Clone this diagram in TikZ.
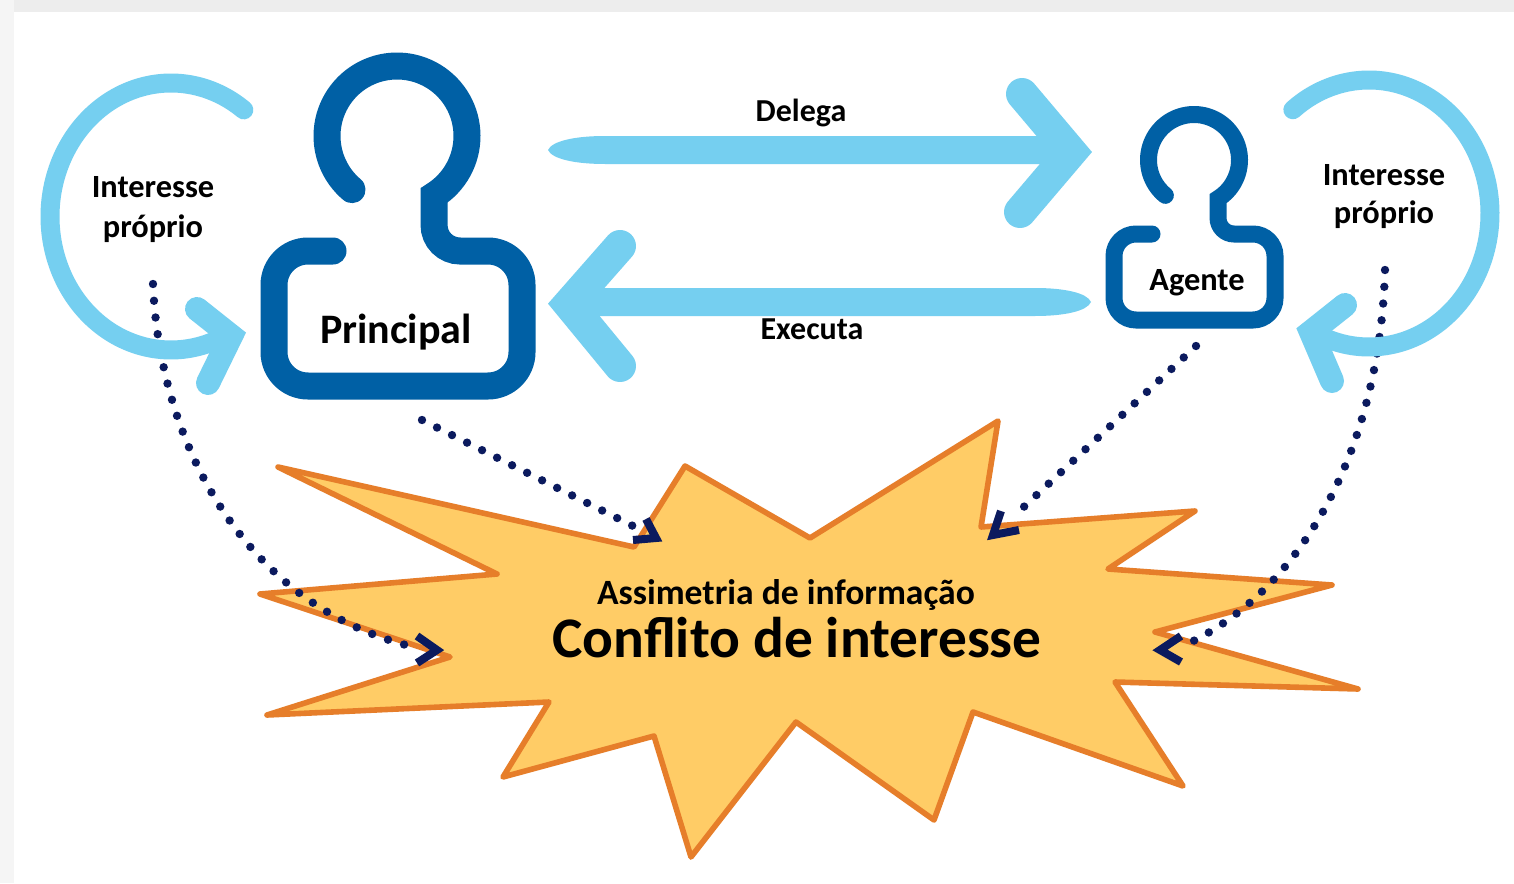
\documentclass[tikz,border=0pt]{standalone}
\usepackage{fontspec}
\setmainfont{Carlito}
\definecolor{lightblue}{HTML}{75CFF0}
\definecolor{darkblue}{HTML}{0060A5}
\definecolor{burstfill}{HTML}{FFCC66}
\definecolor{burstline}{HTML}{E67E2A}
\definecolor{navy}{HTML}{0B1A5E}
\tikzset{
  person/.style={draw=darkblue,line cap=round,line join=miter},
  loopline/.style={draw=lightblue,line width=9.5pt,line cap=round},
  chevron/.style={draw=lightblue,line cap=round,line join=miter,miter limit=10},
  shaft/.style={fill=lightblue,draw=none},
  dots/.style={draw=navy,line width=4.2pt,line cap=round,dash pattern=on 0pt off 8.4pt},
  barb/.style={draw=navy,line width=4pt,line cap=butt,line join=miter,miter limit=10},
  burst/.style={fill=burstfill,draw=burstline,line width=2.8pt,line join=round},
  lbl/.style={inner sep=0pt,text=black,align=center}
}
\begin{document}
\begin{tikzpicture}[x=0.5pt,y=-0.5pt]
\useasboundingbox (0,0) rectangle (1514,883);
% page frame
\fill[white] (0,0) rectangle (1514,883);
\fill[black!7] (0,0) rectangle (1514,12);
\fill[black!4] (0,0) rectangle (14,883);

% burst
\draw[burst] (278,467) -- (634,547) -- (685,466) -- (810,538) -- (998,421) -- (981,527)
  -- (1195,511) -- (1108,569) -- (1332,585) -- (1155,632) -- (1358,689) -- (1115,682)
  -- (1183,786) -- (973,712) -- (934,820) -- (796,722) -- (691,857) -- (654,736)
  -- (503,777) -- (549,702) -- (267,715) -- (450,657) -- (260,594) -- (497,574) -- cycle;

% named connector ends
\coordinate (ownL) at (153,284);
\coordinate (ownLend) at (418,648);
\coordinate (prinOut) at (422,420);
\coordinate (prinEnd) at (633,526);
\coordinate (agOut) at (1196,346);
\coordinate (agEnd) at (1013,517);
\coordinate (ownR) at (1385,270);
\coordinate (ownRend) at (1183,646);

% dotted connectors
\draw[dots] (ownL) .. controls (160,450) and (250,610) .. (ownLend);
\draw[dots] (prinOut) -- (prinEnd);
\draw[dots] (agOut) -- (agEnd);
\draw[dots] (ownR) .. controls (1380,445) and (1305,590) .. (ownRend);

% open arrowheads of the dotted connectors
\draw[barb] (417,636) -- (437,650) -- (417,663);
\draw[barb] (646,519) -- (656,538) -- (633,540);
\draw[barb] (1001,511) -- (993,535) -- (1019,530);
\draw[barb] (1181,636) -- (1160,650) -- (1181,662);

% self loops
\draw[loopline] plot[smooth,domain=-53:-297,samples=70] ({171+121*cos(\x)},{216.5+133.5*sin(\x)});
\draw[chevron,line width=12pt] (197,309) -- (231,336) -- (208,383);
\draw[loopline] plot[smooth,domain=-129:114,samples=70] ({1369+121*cos(\x)},{213.5+133.5*sin(\x)});
\draw[chevron,line width=12pt] (1345,305) -- (1311,332) -- (1332,381);

% Delega arrow
\fill[shaft] (548,150) .. controls (552,141) and (575,136) .. (605,136) -- (1060,136)
   -- (1060,164) -- (605,164) .. controls (575,164) and (552,159) .. (548,150) -- cycle;
\draw[chevron,line width=16pt] (1022,94) -- (1071,152) -- (1020,212);
% Executa arrow
\fill[shaft] (1091,302) .. controls (1087,293) and (1065,288) .. (1035,288) -- (580,288)
   -- (580,316) -- (1035,316) .. controls (1065,316) and (1087,311) .. (1091,302) -- cycle;
\draw[chevron,line width=16pt] (620,246) -- (569,304) -- (620,366);

% Principal figure
\draw[person,line width=13.5pt] plot[smooth,domain=130:418,samples=80] ({397+70*cos(\x)},{136+70*sin(\x)})
   [rounded corners=13pt] -- (434,251) [rounded corners=17pt] -- (522,251) -- (522,386) -- (274,386) -- (274,251) -- (333,251);
% Agente figure
\draw[person,line width=8.5pt] plot[smooth,domain=129:418,samples=80] ({1194+45.5*cos(\x)},{160+45.5*sin(\x)})
   [rounded corners=8pt] -- (1218,234) [rounded corners=11pt] -- (1275,234) -- (1275,320) -- (1114,320) -- (1114,234) -- (1152,234);

% labels
\node[lbl,font=\bfseries\fontsize{21}{24}\selectfont] (principal) at (396,332) {Principal};
\node[lbl,font=\bfseries\fontsize{16.2}{18}\selectfont] (agente) at (1197,283) {Agente};
\node[lbl,font=\bfseries\fontsize{16.2}{18}\selectfont] (ipl1) at (153,187) {Interesse};
\node[lbl,font=\bfseries\fontsize{16.2}{18}\selectfont] (ipl2) at (153,229) {próprio};
\node[lbl,font=\bfseries\fontsize{16.2}{18}\selectfont] (ipr1) at (1384,175) {Interesse};
\node[lbl,font=\bfseries\fontsize{16.2}{18}\selectfont] (ipr2) at (1384,215) {próprio};
\node[lbl,font=\bfseries\fontsize{16}{18}\selectfont] (delega) at (801,113) {Delega};
\node[lbl,font=\bfseries\fontsize{16}{18}\selectfont] (executa) at (812,329) {Executa};
\node[lbl,font=\bfseries\fontsize{17.8}{20}\selectfont] (assim) at (786,595) {Assimetria de informação};
\node[lbl,font=\bfseries\fontsize{28.7}{30}\selectfont] (conf) at (797,638) {Conflito de interesse};
\end{tikzpicture}
\end{document}
